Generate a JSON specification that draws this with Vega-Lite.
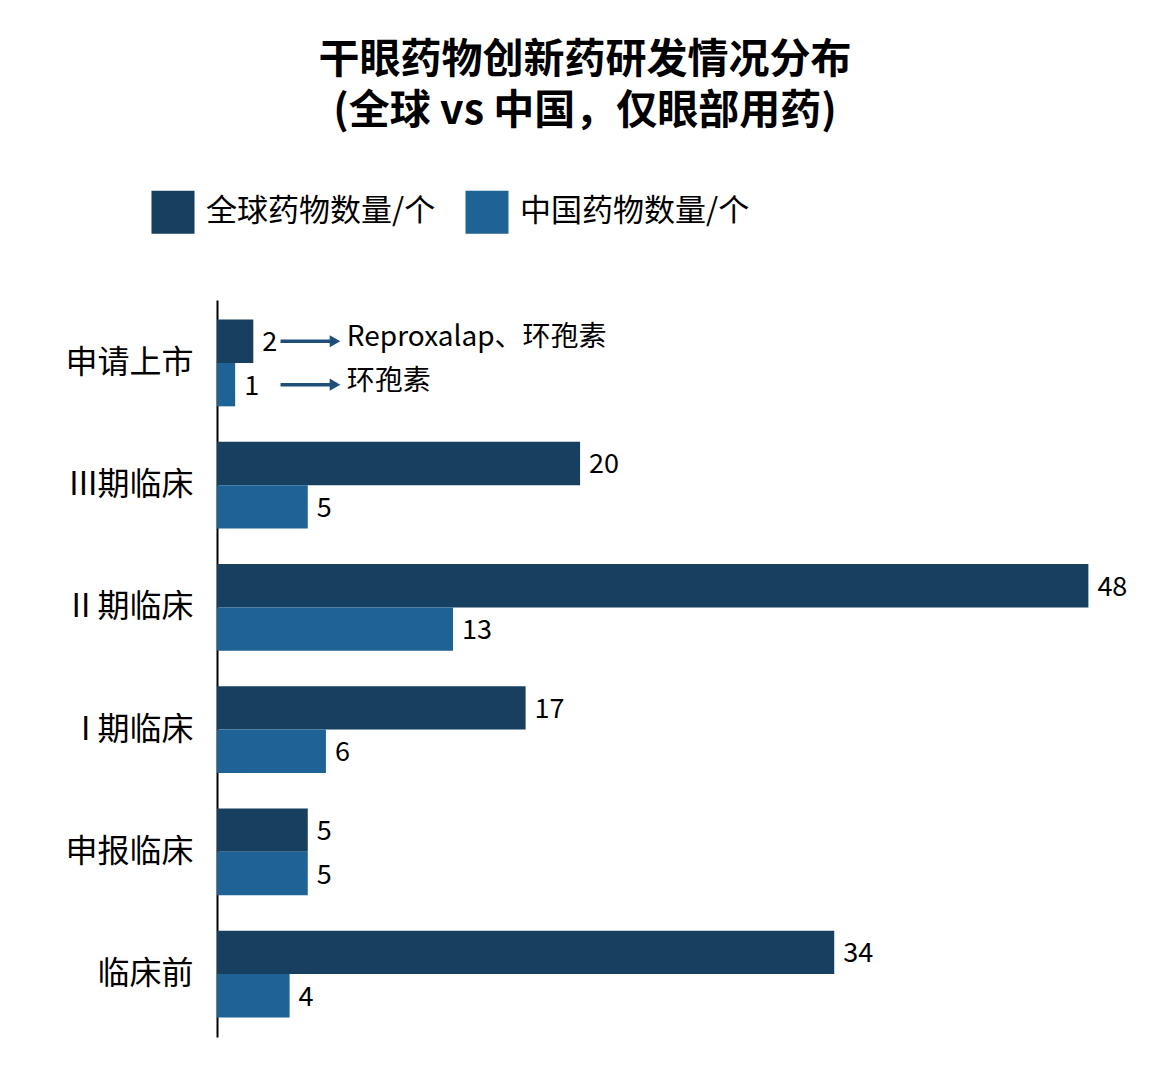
{
  "$schema": "https://vega.github.io/schema/vega-lite/v6.json",
  "autosize": {"type": "none"},
  "width": 944,
  "height": 737,
  "padding": {"left": 217, "top": 300, "right": 11, "bottom": 46},
  "background": "white",
  "config": {"view": {"stroke": null}, "font": "Noto Sans CJK SC"},
  "title": {
    "text": ["干眼药物创新药研发情况分布", "(全球 vs 中国，仅眼部用药)"],
    "fontSize": 41,
    "fontWeight": "bold",
    "font": "Noto Sans CJK SC",
    "color": "#000000",
    "anchor": "middle",
    "align": "center",
    "dx": -104,
    "lineHeight": 51,
    "offset": 57
  },
  "data": {
    "values": [
      {"stage": "申请上市", "series": "全球药物数量/个", "value": 2, "note": "Reproxalap、环孢素"},
      {"stage": "申请上市", "series": "中国药物数量/个", "value": 1, "note": "环孢素"},
      {"stage": "III期临床", "series": "全球药物数量/个", "value": 20},
      {"stage": "III期临床", "series": "中国药物数量/个", "value": 5},
      {"stage": "II 期临床", "series": "全球药物数量/个", "value": 48},
      {"stage": "II 期临床", "series": "中国药物数量/个", "value": 13},
      {"stage": "I 期临床", "series": "全球药物数量/个", "value": 17},
      {"stage": "I 期临床", "series": "中国药物数量/个", "value": 6},
      {"stage": "申报临床", "series": "全球药物数量/个", "value": 5},
      {"stage": "申报临床", "series": "中国药物数量/个", "value": 5},
      {"stage": "临床前", "series": "全球药物数量/个", "value": 34},
      {"stage": "临床前", "series": "中国药物数量/个", "value": 4}
    ]
  },
  "encoding": {
    "y": {
      "field": "stage",
      "type": "nominal",
      "sort": ["申请上市", "III期临床", "II 期临床", "I 期临床", "申报临床", "临床前"],
      "scale": {"paddingInner": 0.29, "paddingOuter": 0.16},
      "axis": {
        "title": null,
        "ticks": false,
        "domainColor": "#000000",
        "domainWidth": 2,
        "labelFontSize": 32,
        "labelColor": "#000000",
        "labelPadding": 24,
        "labelFont": "Noto Sans CJK SC"
      }
    },
    "yOffset": {
      "field": "series",
      "type": "nominal",
      "sort": ["全球药物数量/个", "中国药物数量/个"],
      "scale": {"paddingInner": 0, "paddingOuter": 0}
    }
  },
  "layer": [
    {
      "mark": {"type": "bar"},
      "encoding": {
        "x": {"field": "value", "type": "quantitative", "scale": {"domain": [0, 52], "nice": false}, "axis": null},
        "color": {
          "field": "series",
          "type": "nominal",
          "sort": ["全球药物数量/个", "中国药物数量/个"],
          "scale": {"range": ["#163F60", "#1F6296"]},
          "legend": {
            "title": null,
            "orient": "none",
            "legendX": -66,
            "legendY": -110,
            "direction": "horizontal",
            "symbolType": "square",
            "symbolSize": 1850,
            "symbolStrokeWidth": 0,
            "labelFontSize": 31,
            "labelColor": "#000000",
            "labelOffset": 11,
            "labelLimit": 500,
            "columnPadding": 29,
            "labelFont": "Noto Sans CJK SC"
          }
        }
      }
    },
    {
      "mark": {"type": "text", "align": "left", "baseline": "middle", "dx": 9, "dy": 2, "fontSize": 27, "color": "#000000", "font": "Noto Sans CJK SC"},
      "encoding": {
        "x": {"field": "value", "type": "quantitative"},
        "text": {"field": "value", "type": "quantitative"}
      }
    },
    {
      "transform": [{"filter": "datum.note != null"}],
      "mark": {"type": "rule", "color": "#1F4E79", "strokeWidth": 3.5},
      "encoding": {
        "x": {"datum": 3.5},
        "x2": {"datum": 6.4}
      }
    },
    {
      "transform": [{"filter": "datum.note != null"}],
      "mark": {"type": "point", "shape": "triangle-right", "filled": true, "color": "#1F4E79", "size": 150, "opacity": 1},
      "encoding": {
        "x": {"datum": 6.5}
      }
    },
    {
      "transform": [{"filter": "datum.note != null"}],
      "mark": {"type": "text", "align": "left", "baseline": "middle", "dy": -3, "fontSize": 28, "color": "#000000", "font": "Noto Sans CJK SC"},
      "encoding": {
        "x": {"datum": 7.15},
        "text": {"field": "note"}
      }
    }
  ]
}
